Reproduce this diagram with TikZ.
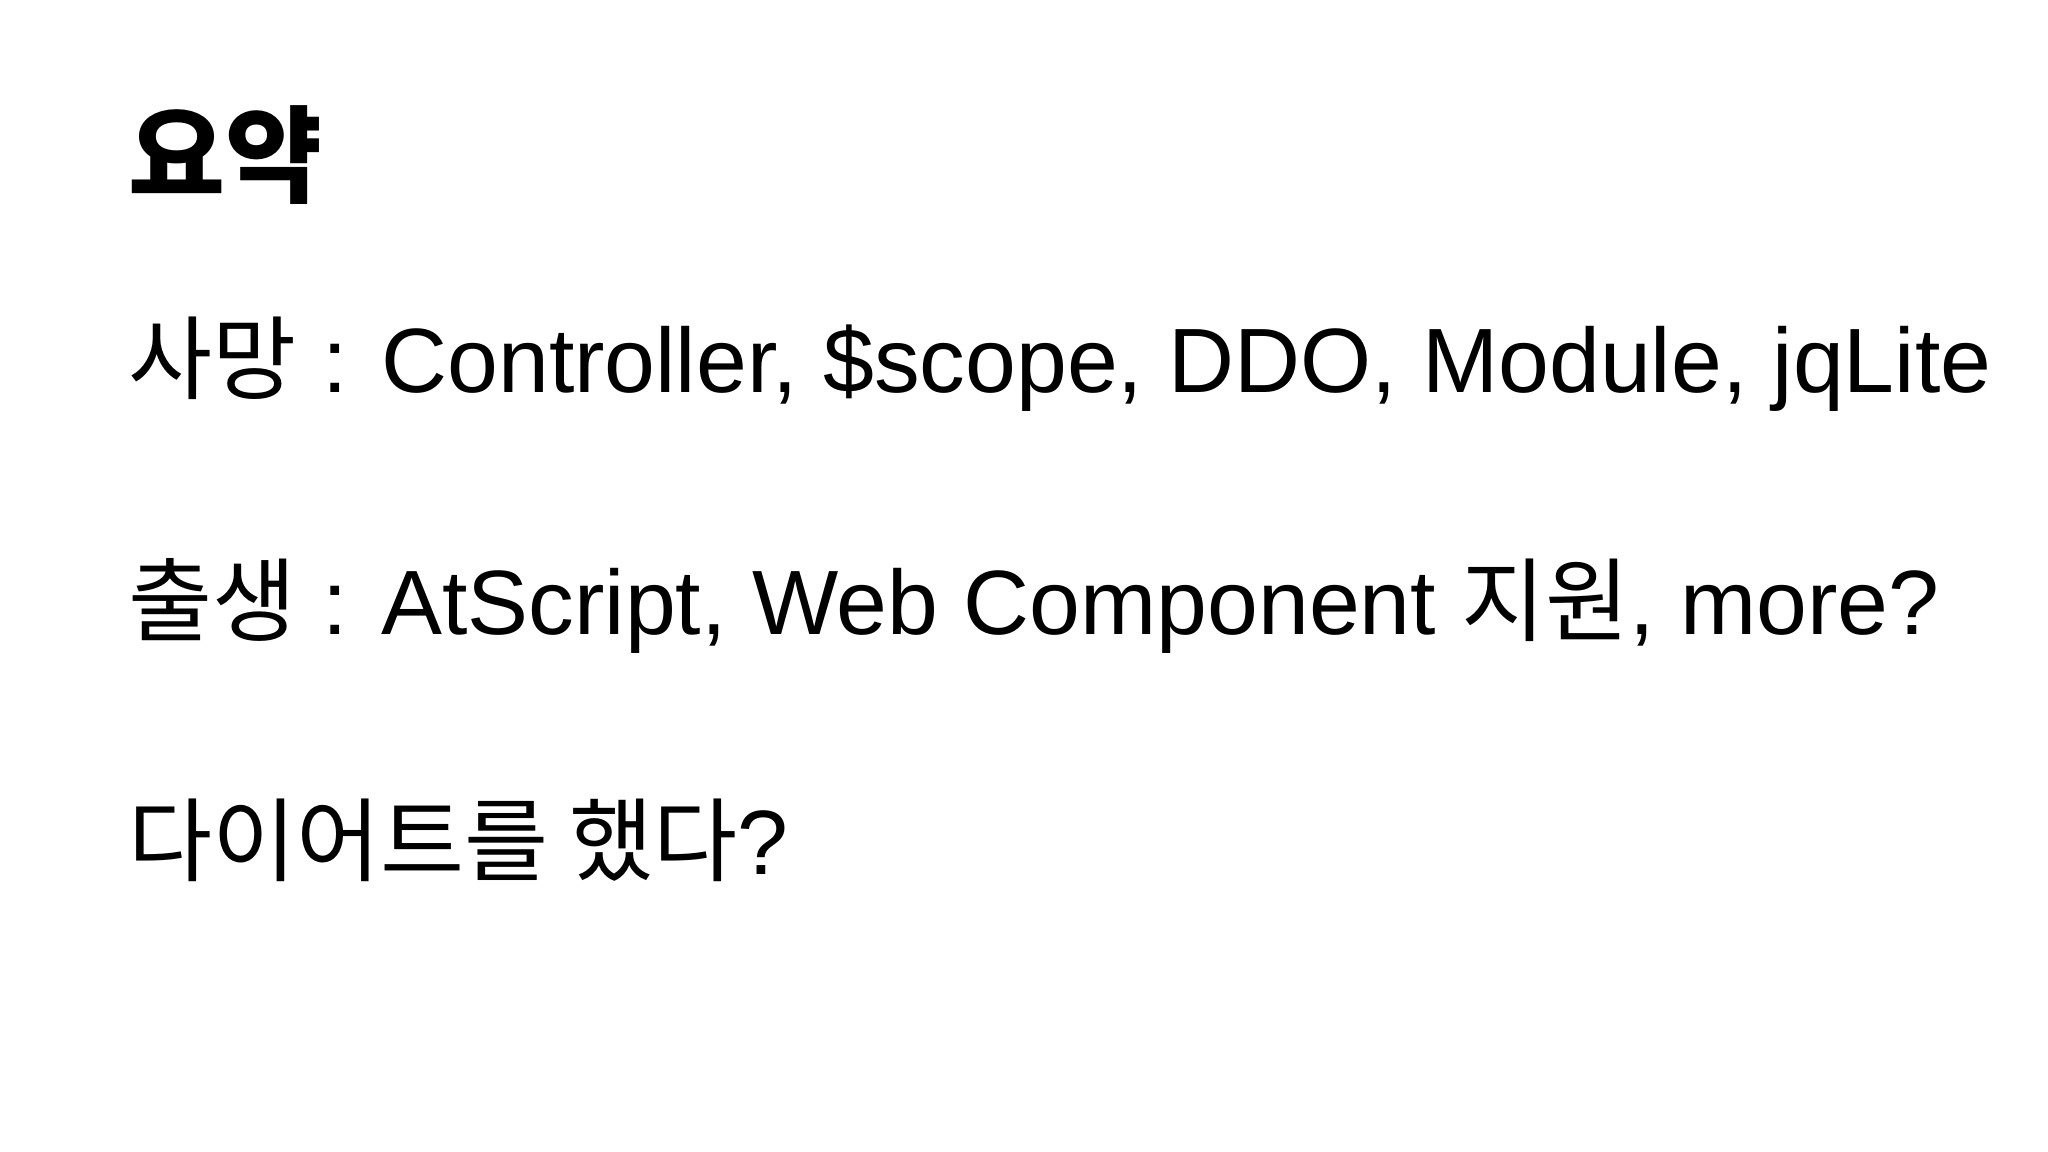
\documentclass[tikz,border=0pt]{standalone}
\usepackage{fontspec}
\setmainfont{Liberation Sans}
\newfontfamily\kr{Noto Sans CJK KR}
\begin{document}
\begin{tikzpicture}[x=1cm,y=1cm,
  line/.style={anchor=base west,inner sep=0pt,font=\fontsize{26}{30}\selectfont}]
\useasboundingbox (0,0) rectangle (20.48,-11.52);
\node[anchor=base west,inner sep=0pt,font=\fontsize{30}{34}\selectfont\kr\bfseries] (title) at (1.28,-1.95) {요약};
\node[line] (l1) at (1.28,-3.93) {{\kr 사망} : Controller, \$scope, DDO, Module, jqLite};
\node[line] (l2) at (1.28,-6.34) {{\kr 출생} : AtScript, Web Component {\kr 지원}, more?};
\node[line] (l3) at (1.28,-8.74) {{\kr 다이어트를 했다}?};
\end{tikzpicture}
\end{document}
